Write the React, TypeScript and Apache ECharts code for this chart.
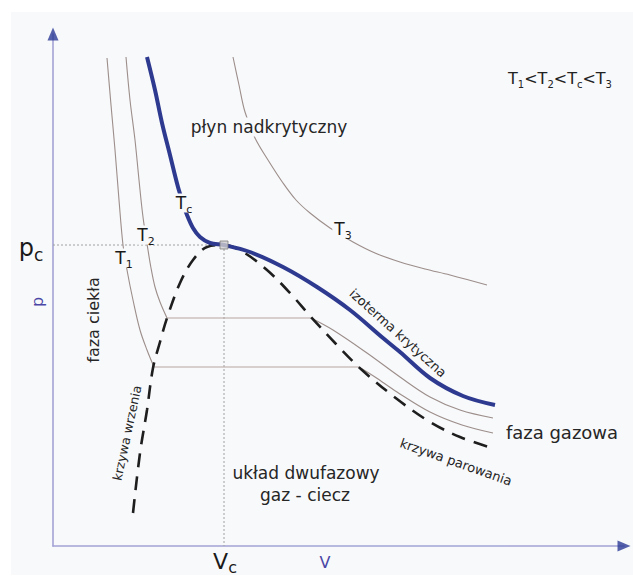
import React, { useEffect, useRef } from "react";
import * as echarts from "echarts";

// p–V diagram, arbitrary units (V to the right, p upward); critical point at (171, 301)
const CRITICAL: [number, number] = [171, 301];

const T1_LEFT: [number, number][] = [
  [54, 488], [58, 441], [62, 396], [66, 346], [70, 301], [74, 276], [80, 246], [87, 216], [94, 196], [101, 179],
];
const T1_PLATEAU: [number, number][] = [[101, 179], [306, 179]];
const T1_RIGHT: [number, number][] = [
  [306, 179], [322, 169], [344, 154], [377, 134], [409, 121], [440, 113],
];

const T2_LEFT: [number, number][] = [
  [73, 489], [77, 446], [82, 406], [86, 366], [90, 329], [95, 296], [98, 278], [102, 259], [107, 244], [114, 228],
];
const T2_PLATEAU: [number, number][] = [[114, 228], [258, 228]];
const T2_RIGHT: [number, number][] = [
  [258, 228], [280, 216], [314, 193], [347, 169], [377, 149], [407, 136], [440, 128],
];

const TC_CURVE: [number, number][] = [
  [94, 489], [102, 456], [109, 423], [117, 391], [125, 359], [130, 343], [134, 331], [140, 318], [147, 309],
  [157, 303], [171, 301], [197, 294], [230, 279], [264, 259], [297, 236], [330, 208], [347, 194], [377, 168],
  [410, 150], [442, 141],
];

const T3_CURVE: [number, number][] = [
  [180, 489], [186, 461], [192, 434], [202, 408], [215, 386], [230, 363], [243, 346], [257, 333], [277, 318],
  [300, 304], [322, 293], [347, 284], [372, 277], [397, 271], [434, 261],
];

const DOME_CURVE: [number, number][] = [
  [80, 33], [87, 93], [94, 136], [100, 178], [107, 204], [114, 228], [127, 263], [140, 286], [154, 299],
  [171, 301], [190, 294], [214, 276], [237, 253], [258, 229], [283, 202], [309, 176], [344, 147], [377, 124],
  [407, 109], [439, 98],
];

const PC_LINE: [number, number][] = [[0, 301], [171, 301]];
const VC_LINE: [number, number][] = [[171, 301], [171, 0]];

const X_MAX = 571;
const Y_MAX = 512;

const BG = "#f8f9fb";
const FONT = "DejaVu Sans";
const TEXT = "#262626";
const ISO = "#9c8e8a";
const BLUE = "#2e3a8f";

function lineSeries(data: [number, number][], color: string, width: number, type: any = "solid", smooth: any = 0.35) {
  return {
    type: "line",
    data,
    symbol: "none",
    showSymbol: false,
    smooth,
    clip: false,
    silent: true,
    lineStyle: { color, width, type, cap: "butt" },
  };
}

function txt(text: string, x: number, y: number, fontSize: number, opts: any = {}) {
  return {
    type: "text",
    x,
    y,
    rotation: opts.rotation || 0,
    z: 100,
    style: {
      text,
      fill: opts.color || TEXT,
      fontSize,
      fontFamily: FONT,
      align: "center",
      verticalAlign: "middle",
      backgroundColor: opts.bg === false ? undefined : BG,
      padding: opts.padding || [1, 2],
      rich: opts.rich,
    },
  };
}

const subRich = (big: number, small: number, color: string) => ({
  t: { fontSize: big, fontFamily: FONT, fill: color, color, verticalAlign: "bottom" },
  s: { fontSize: small, fontFamily: FONT, fill: color, color, verticalAlign: "bottom", padding: [0, 0, -3, 0] },
});

export default function App() {
  const ref = useRef<HTMLDivElement>(null);
  useEffect(() => {
    const chart = echarts.init(ref.current!, null, { renderer: "svg" });
    const option: any = {
      animation: false,
      backgroundColor: "transparent",
      grid: { left: 53, top: 546 - Y_MAX, width: X_MAX, height: Y_MAX },
      xAxis: {
        type: "value",
        min: 0,
        max: X_MAX,
        axisLine: { show: true, onZero: false, lineStyle: { color: "#a3a3d6", width: 1.6 } },
        axisTick: { show: false },
        axisLabel: { show: false },
        splitLine: { show: false },
      },
      yAxis: {
        type: "value",
        min: 0,
        max: Y_MAX,
        axisLine: { show: true, onZero: false, lineStyle: { color: "#a3a3d6", width: 1.6 } },
        axisTick: { show: false },
        axisLabel: { show: false },
        splitLine: { show: false },
      },
      series: [
        lineSeries(PC_LINE, "#a0a0a0", 1, [2, 2], false),
        lineSeries(VC_LINE, "#a0a0a0", 1, [2, 2], false),
        lineSeries(T3_CURVE, ISO, 1.1),
        lineSeries(T1_LEFT, ISO, 1.1),
        lineSeries(T1_PLATEAU, "#b3a6a2", 1.1, "solid", false),
        lineSeries(T1_RIGHT, ISO, 1.1),
        lineSeries(T2_LEFT, ISO, 1.1),
        lineSeries(T2_PLATEAU, "#b3a6a2", 1.1, "solid", false),
        lineSeries(T2_RIGHT, ISO, 1.1),
        lineSeries(DOME_CURVE, "#1e1e1e", 2.6, [14, 9]),
        lineSeries(TC_CURVE, BLUE, 4),
        {
          type: "scatter",
          data: [CRITICAL],
          symbol: "rect",
          symbolSize: 8,
          silent: true,
          clip: false,
          itemStyle: { color: "#cfcfcf", borderColor: "#7a7a7a", borderWidth: 1 },
          z: 5,
        },
        {
          type: "scatter",
          data: [[X_MAX, 0]],
          symbol: "triangle",
          symbolSize: [11, 13],
          symbolRotate: -90,
          silent: true,
          clip: false,
          itemStyle: { color: "#2b3a96" },
        },
        {
          type: "scatter",
          data: [[0, Y_MAX]],
          symbol: "triangle",
          symbolSize: [11, 13],
          silent: true,
          clip: false,
          itemStyle: { color: "#2b3a96" },
        },
      ],
      graphic: [
        txt("płyn nadkrytyczny", 269, 127, 17),
        txt("{t|T}{s|1}{t|<T}{s|2}{t|<T}{s|c}{t|<T}{s|3}", 560, 78, 16, { rich: subRich(16, 10, "#222"), bg: false }),
        txt("{t|T}{s|1}", 124, 258, 17, { rich: subRich(17, 11, "#1a1a1a") }),
        txt("{t|T}{s|2}", 146, 235, 17, { rich: subRich(17, 11, "#1a1a1a") }),
        txt("{t|T}{s|c}", 184, 203, 17, { rich: subRich(17, 11, "#1a1a1a") }),
        txt("{t|T}{s|3}", 343, 229, 17, { rich: subRich(17, 11, "#1a1a1a") }),
        txt("faza ciekła", 93, 320, 16, { rotation: Math.PI / 2, bg: false }),
        txt("krzywa wrzenia", 127, 433, 12.5, { rotation: 1.36, bg: false }),
        txt("izoterma krytyczna", 398, 333, 13, { rotation: -0.73, bg: false }),
        txt("krzywa parowania", 456, 462, 13, { rotation: -0.34, bg: false }),
        txt("faza gazowa", 562, 432, 18, { bg: false }),
        txt("układ dwufazowy", 306, 473, 17),
        txt("gaz - ciecz", 305, 495, 17),
        txt("{t|p}{s|c}", 31, 248, 24, { rich: subRich(24, 17, "#1a1a1a"), bg: false }),
        txt("{t|V}{s|c}", 225, 561, 22, { rich: subRich(22, 16, "#1a1a1a"), bg: false }),
        txt("p", 37, 302, 16, { rotation: Math.PI / 2, color: "#4b47a6", bg: false }),
        txt("V", 325, 562, 16, { color: "#4b47a6", bg: false }),
      ],
    };
    chart.setOption(option);
    return () => chart.dispose();
  }, []);
  return (
    <div style={{ position: "fixed", left: 0, top: 0, width: 633, height: 577, background: "#ffffff" }}>
      <div style={{ position: "absolute", left: 11, top: 12, width: 622, height: 563, background: BG }} />
      <div ref={ref} style={{ position: "absolute", left: 0, top: 0, width: 633, height: 577 }} />
    </div>
  );
}
